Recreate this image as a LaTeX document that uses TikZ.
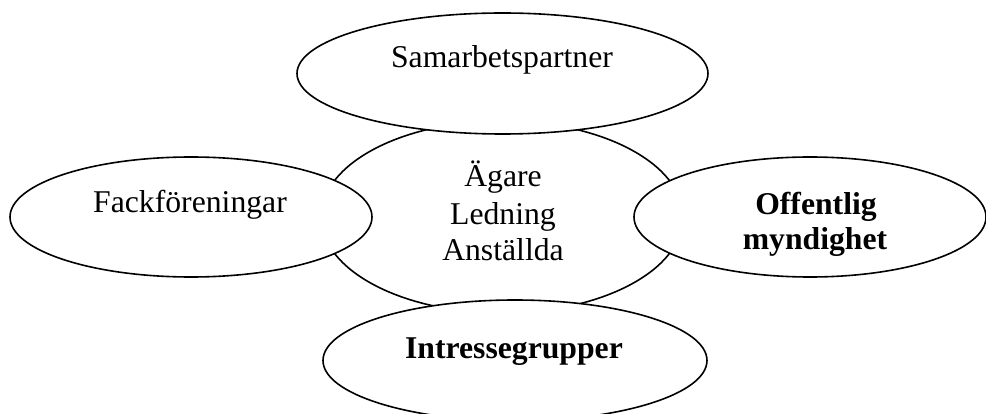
\documentclass[tikz,border=0pt]{standalone}
\usepackage{fontspec}
\setmainfont{Liberation Serif}
\usetikzlibrary{shapes.geometric}
\begin{document}
\begin{tikzpicture}[x=1pt,y=-1pt,
  blob/.style={ellipse, draw, line width=1.6pt, fill=white, inner sep=0pt, outer sep=0pt},
  lbl/.style={anchor=base, inner sep=0pt, font=\fontsize{31.7}{37}\selectfont},
  blbl/.style={lbl, font=\fontsize{31.7}{37}\selectfont\bfseries}]
\useasboundingbox (0,0) rectangle (986,414);
\node[blob, minimum width=362pt, minimum height=192pt] (core) at (502,217) {};
\node[blob, minimum width=411pt, minimum height=121pt] (top) at (502.5,73.5) {};
\node[blob, minimum width=362pt, minimum height=120pt] (left) at (191,217) {};
\node[blob, minimum width=352pt, minimum height=120pt] (right) at (810,217) {};
\node[blob, minimum width=384pt, minimum height=121pt] (bottom) at (515,360.5) {};
\node[lbl] (toptext) at (502,68) {Samarbetspartner};
\node[lbl] (lefttext) at (190,213) {Fackföreningar};
\node[lbl] (core1) at (503,187) {Ägare};
\node[lbl] (core2) at (503,225) {Ledning};
\node[lbl] (core3) at (503,261) {Anställda};
\node[blbl] (right1) at (816,215) {Offentlig};
\node[blbl] (right2) at (815,250) {myndighet};
\node[blbl] (bottomtext) at (514,358) {Intressegrupper};
\end{tikzpicture}
\end{document}
